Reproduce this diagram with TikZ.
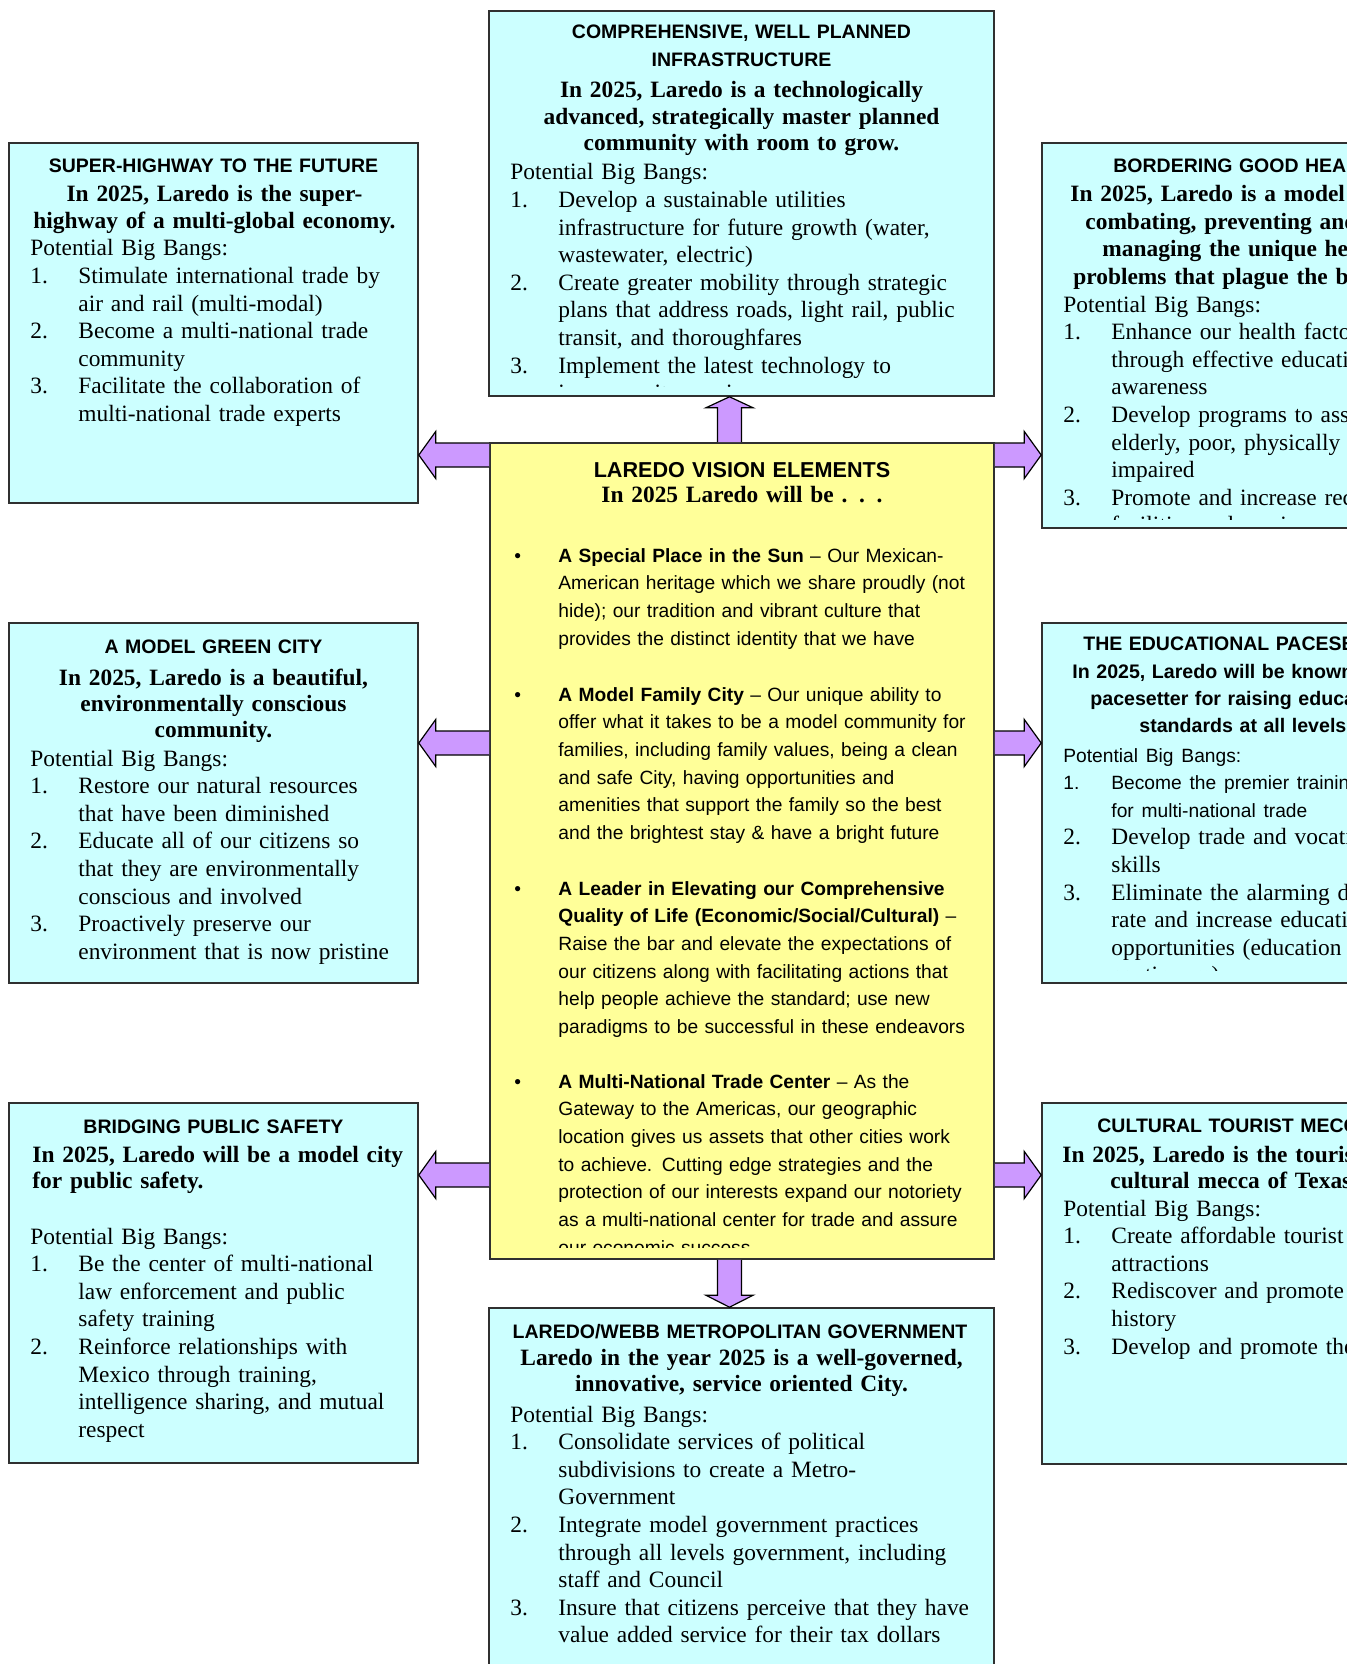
\documentclass[tikz,border=0pt]{standalone}
\usepackage{fontspec}
\setmainfont{Liberation Serif}
\newfontfamily\hsans{Liberation Sans}
\usetikzlibrary{calc,fit}
\definecolor{boxcyan}{HTML}{CCFFFF}
\definecolor{boxyellow}{HTML}{FFFF99}
\definecolor{arrowpurple}{HTML}{CC99FF}
\definecolor{edge}{HTML}{303030}
\newcommand\numit[1]{\makebox[24pt][l]{#1}}
\newcommand\hind{\hspace*{24pt}}
\newcommand\bul{\makebox[22pt][l]{\textbullet}}
\newcommand\bind{\hspace*{22pt}}
\newcommand\sansl[1]{{\hsans\fontsize{9.6}{13.8}\selectfont #1}}
\newcommand\boxclip[2][10]{\clip (#2.north west) rectangle ($(#2.south east)+(0,-#1)$);}
\newcommand\blockarrow[3][8.5pt]{%
  \coordinate (bas) at (#2);
  \coordinate (bat) at (#3);
  \coordinate (bah) at ($(bat)!#1!(bas)$);
  \filldraw[barrow] ($(bas)!6pt!90:(bat)$) -- ($(bah)!6pt!90:(bat)$) -- ($(bah)!11.8pt!90:(bat)$) -- (bat) -- ($(bah)!11.8pt!-90:(bat)$) -- ($(bah)!6pt!-90:(bat)$) -- ($(bas)!6pt!-90:(bat)$);%
}
\tikzset{
  cbox/.style={draw=edge, line width=0.8pt, fill=boxcyan, inner sep=0pt},
  ybox/.style={draw=edge, line width=0.8pt, fill=boxyellow, inner sep=0pt},
  barrow/.style={draw=black, line width=0.6pt, fill=arrowpurple, line join=miter},
  ttlc/.style={font=\hsans\bfseries\fontsize{9.75}{13.8}\selectfont, inner sep=0pt, align=center, text width=250pt, anchor=base},
  ttll/.style={font=\hsans\bfseries\fontsize{9.75}{13.8}\selectfont, inner sep=0pt, align=left, text width=300pt, anchor=base west},
  ctitle/.style={font=\hsans\bfseries\fontsize{10.8}{15.5}\selectfont, inner sep=0pt, align=center, text width=250pt, anchor=base},
  subc/.style={font=\bfseries\fontsize{11.7}{13.1}\selectfont, inner sep=0pt, align=center, text width=250pt, anchor=base},
  subl/.style={font=\bfseries\fontsize{11.7}{13.1}\selectfont, inner sep=0pt, align=left, text width=300pt, anchor=base west},
  subsans/.style={font=\hsans\bfseries\fontsize{9.8}{13.5}\selectfont, inner sep=0pt, align=left, text width=300pt, anchor=base west},
  bdy/.style={font=\fontsize{11.7}{13.8}\selectfont, inner sep=0pt, align=left, text width=300pt, anchor=base west},
  cbody/.style={font=\hsans\fontsize{9.6}{13.85}\selectfont, inner sep=0pt, align=left, text width=240pt, anchor=base west}
}
\begin{document}
\begin{tikzpicture}[x=0.5pt,y=-0.5pt]
\useasboundingbox (0,0) rectangle (1347,1664);
\clip (0,0) rectangle (1347,1664);
\fill[white] (0,0) rectangle (1347,1664);

% boxes
\node[cbox, fit={(489,11) (994,396)}] (top) {};
\node[cbox, fit={(9,143) (418,503)}] (l1) {};
\node[cbox, fit={(9,623) (418,983)}] (l2) {};
\node[cbox, fit={(9,1103) (418,1463)}] (l3) {};
\node[cbox, fit={(1042,143) (1451,528)}] (r1) {};
\node[cbox, fit={(1042,623) (1451,983)}] (r2) {};
\node[cbox, fit={(1042,1103) (1451,1464)}] (r3) {};
\node[ybox, fit={(490,443) (994,1259)}] (c) {};
\node[cbox, fit={(489,1308) (994,1720)}] (bot) {};

% arrows
\coordinate (yA) at (0,455);
\coordinate (yB) at (0,743);
\coordinate (yC) at (0,1175);
\coordinate (xV) at (729.5,0);
\blockarrow{c.west |- yA}{l1.east |- yA}
\blockarrow{c.west |- yB}{l2.east |- yB}
\blockarrow{c.west |- yC}{l3.east |- yC}
\blockarrow{c.east |- yA}{r1.west |- yA}
\blockarrow{c.east |- yB}{r2.west |- yB}
\blockarrow{c.east |- yC}{r3.west |- yC}
\blockarrow[5.5pt]{c.north -| xV}{top.south -| xV}
\blockarrow[6pt]{c.south -| xV}{bot.north -| xV}

% top box
\begin{scope}\boxclip{top}
\node[ttlc] (topT) at (741.5,39) {COMPREHENSIVE, WELL PLANNED\\INFRASTRUCTURE};
\node[subc] (topS) at (741.5,98) {In 2025, Laredo is a technologically\\advanced, strategically master planned\\community with room to grow.};
\node[bdy] (topB) at (510,180) {Potential Big Bangs:\\
\numit{1.}Develop a sustainable utilities\\
\hind infrastructure for future growth (water,\\
\hind wastewater, electric)\\
\numit{2.}Create greater mobility through strategic\\
\hind plans that address roads, light rail, public\\
\hind transit, and thoroughfares\\
\numit{3.}Implement the latest technology to\\
\hind improve city services};
\end{scope}

% left 1
\begin{scope}\boxclip{l1}
\node[ttlc] (l1T) at (213.5,173) {SUPER-HIGHWAY TO THE FUTURE};
\node[subc] (l1S) at (214.5,202) {In 2025, Laredo is the super-\\highway of a multi-global economy.};
\node[bdy] (l1B) at (30,256) {Potential Big Bangs:\\
\numit{1.}Stimulate international trade by\\
\hind air and rail (multi-modal)\\
\numit{2.}Become a multi-national trade\\
\hind community\\
\numit{3.}Facilitate the collaboration of\\
\hind multi-national trade experts};
\end{scope}

% left 2
\begin{scope}\boxclip{l2}
\node[ttlc] (l2T) at (213.5,653) {A MODEL GREEN CITY};
\node[subc] (l2S) at (213.5,685) {In 2025, Laredo is a beautiful,\\environmentally conscious\\community.};
\node[bdy] (l2B) at (30,766) {Potential Big Bangs:\\
\numit{1.}Restore our natural resources\\
\hind that have been diminished\\
\numit{2.}Educate all of our citizens so\\
\hind that they are environmentally\\
\hind conscious and involved\\
\numit{3.}Proactively preserve our\\
\hind environment that is now pristine};
\end{scope}

% left 3
\begin{scope}\boxclip{l3}
\node[ttlc] (l3T) at (213.5,1133) {BRIDGING PUBLIC SAFETY};
\node[subl] (l3S) at (32,1162) {In 2025, Laredo will be a model city\\for public safety.};
\node[bdy] (l3B) at (30,1244) {Potential Big Bangs:\\
\numit{1.}Be the center of multi-national\\
\hind law enforcement and public\\
\hind safety training\\
\numit{2.}Reinforce relationships with\\
\hind Mexico through training,\\
\hind intelligence sharing, and mutual\\
\hind respect};
\end{scope}

% right 1
\begin{scope}\boxclip[9]{r1}
\node[ttll] (r1T) at (1113,172.5) {BORDERING GOOD HEALTH};
\node[subl, font=\bfseries\fontsize{11.7}{13.7}\selectfont] (r1S) at (1063,202) {\hspace*{3.5pt}In 2025, Laredo is a model city for\\
\hspace*{11pt}combating, preventing and\\
\hspace*{19.5pt}managing the unique health\\
\hspace*{5pt}problems that plague the border.};
\node[bdy] (r1B) at (1063,312) {Potential Big Bangs:\\
\numit{1.}Enhance our health factors\\
\hind through effective education and\\
\hind awareness\\
\numit{2.}Develop programs to assist the\\
\hind elderly, poor, physically\\
\hind impaired\\
\numit{3.}Promote and increase recreational\\
\hind facilities and services};
\end{scope}

% right 2
\begin{scope}\boxclip[13]{r2}
\node[ttll] (r2T) at (1083,650) {THE EDUCATIONAL PACESETTER};
\node[subsans] (r2S) at (1063,678) {\hspace*{4.5pt}In 2025, Laredo will be known as the\\
\hspace*{13.5pt}pacesetter for raising educational\\
\hspace*{38pt}standards at all levels.};
\node[bdy] (r2B) at (1063,762) {\sansl{Potential Big Bangs:}\\
\sansl{\numit{1.}Become the premier training center}\\
\sansl{\hind for multi-national trade}\\
\numit{2.}Develop trade and vocational\\
\hind skills\\
\numit{3.}Eliminate the alarming dropout\\
\hind rate and increase educational\\
\hind opportunities (education\\
\hind continuum)};
\end{scope}

% right 3
\begin{scope}\boxclip{r3}
\node[ttll] (r3T) at (1097,1132) {CULTURAL TOURIST MECCA};
\node[subl] (r3S) at (1062,1162) {In 2025, Laredo is the tourist and\\
\hspace*{24pt}cultural mecca of Texas.};
\node[bdy] (r3B) at (1063,1216) {Potential Big Bangs:\\
\numit{1.}Create affordable tourist\\
\hind attractions\\
\numit{2.}Rediscover and promote our\\
\hind history\\
\numit{3.}Develop and promote the arts};
\end{scope}

% bottom
\begin{scope}\boxclip{bot}
\node[ttlc] (botT) at (740,1338) {LAREDO/WEBB METROPOLITAN GOVERNMENT};
\node[subc] (botS) at (741.5,1365) {Laredo in the year 2025 is a well-governed,\\innovative, service oriented City.};
\node[bdy] (botB) at (510,1422) {Potential Big Bangs:\\
\numit{1.}Consolidate services of political\\
\hind subdivisions to create a Metro-\\
\hind Government\\
\numit{2.}Integrate model government practices\\
\hind through all levels government, including\\
\hind staff and Council\\
\numit{3.}Insure that citizens perceive that they have\\
\hind value added service for their tax dollars};
\end{scope}

% center
\begin{scope}\boxclip[12]{c}
\node[ctitle] (cT) at (742,477) {LAREDO VISION ELEMENTS};
\node[subc] (cS) at (742,502) {In 2025 Laredo will be . . .};
\node[cbody] (cb1) at (514,562) {\bul\textbf{A Special Place in the Sun} – Our Mexican-\\
\bind American heritage which we share proudly (not\\
\bind hide); our tradition and vibrant culture that\\
\bind provides the distinct identity that we have};
\node[cbody] (cb2) at (514,701) {\bul\textbf{A Model Family City} – Our unique ability to\\
\bind offer what it takes to be a model community for\\
\bind families, including family values, being a clean\\
\bind and safe City, having opportunities and\\
\bind amenities that support the family so the best\\
\bind and the brightest stay \& have a bright future};
\node[cbody] (cb3) at (514,895) {\bul\textbf{A Leader in Elevating our Comprehensive}\\
\bind\textbf{Quality of Life (Economic/Social/Cultural)} –\\
\bind Raise the bar and elevate the expectations of\\
\bind our citizens along with facilitating actions that\\
\bind help people achieve the standard; use new\\
\bind paradigms to be successful in these endeavors};
\node[cbody] (cb4) at (514,1088) {\bul\textbf{A Multi-National Trade Center} – As the\\
\bind Gateway to the Americas, our geographic\\
\bind location gives us assets that other cities work\\
\bind to achieve. Cutting edge strategies and the\\
\bind protection of our interests expand our notoriety\\
\bind as a multi-national center for trade and assure\\
\bind our economic success.};
\end{scope}
\end{tikzpicture}
\end{document}
